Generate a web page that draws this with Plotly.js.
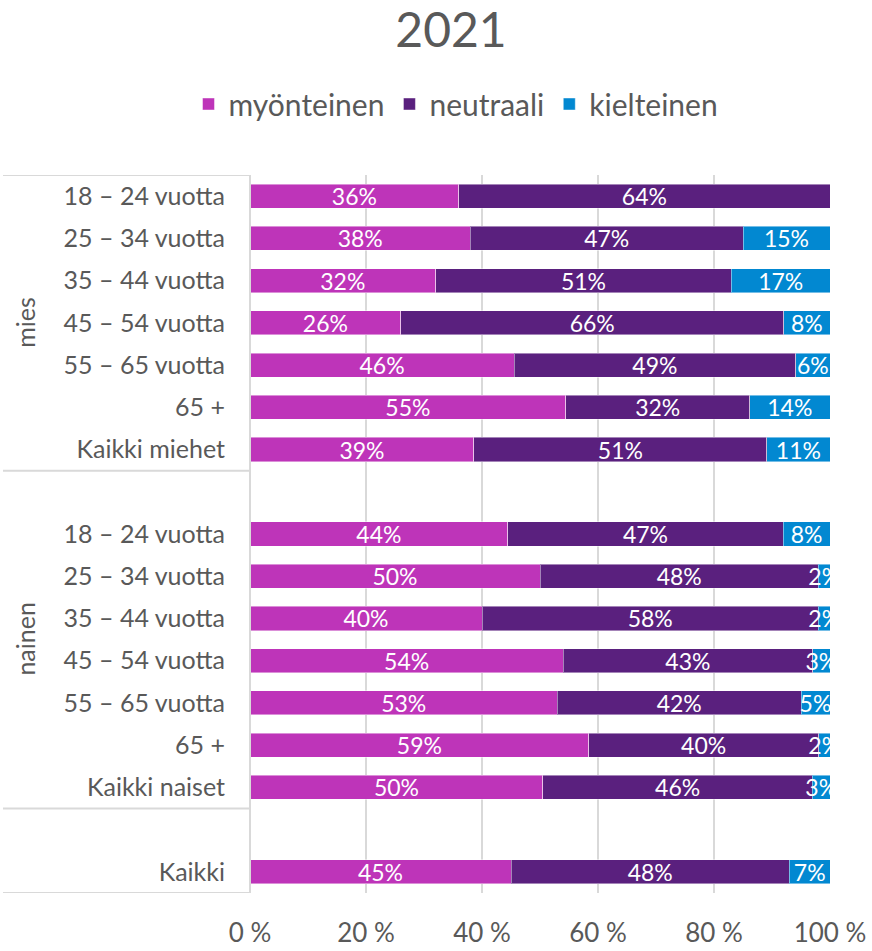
<!DOCTYPE html>
<html>
<head>
<meta charset="utf-8">
<script src="https://cdn.plot.ly/plotly-3.0.1.min.js"></script>
<style>html,body{margin:0;padding:0;background:#fff;}#chart{width:872px;height:951px;}</style>
</head>
<body>
<div id="chart"></div>
<script>
const categories = ['18 – 24 vuotta','25 – 34 vuotta','35 – 44 vuotta','45 – 54 vuotta','55 – 65 vuotta','65 +','Kaikki miehet','',
  '18 – 24 vuotta','25 – 34 vuotta','35 – 44 vuotta','45 – 54 vuotta','55 – 65 vuotta','65 +','Kaikki naiset','',
  'Kaikki'];
const groups = ['mies','nainen'];
const seriesNames = ['myönteinen','neutraali','kielteinen'];
const myonteinen = [36,38,32,26,46,55,39,null,44,50,40,54,53,59,50,null,45];
const neutraali  = [64,47,51,66,49,32,51,null,47,48,58,43,42,40,46,null,48];
const kielteinen = [0,15,17,8,6,14,11,null,8,2,2,3,5,2,3,null,7];
const xTicks = [0,20,40,60,80,100];
const xTickText = ['0 %','20 %','40 %','60 %','80 %','100 %'];
const title = '2021';

const colors = ['#BE34B9','#5A207E','#0288D1'];
const FONT = 'Lato, "Open Sans", sans-serif';
const idx = categories.map((c,i)=>i);

const data = [myonteinen, neutraali, kielteinen].map((vals,k)=>({
  type:'bar', orientation:'h', name: seriesNames[k],
  y: idx, x: vals,
  text: vals.map(v => (v ? v + '%' : '')),
  textposition:'inside', insidetextanchor:'middle', textangle:0, constraintext:'none',
  textfont:{color:'#ffffff', size:23, family:FONT},
  marker:{color:colors[k], line:{color:'rgba(255,255,255,0.45)', width:1}},
  hoverinfo:'skip', cliponaxis:true
}));

const pxX = p => (p-250)/580;
const lineColor = '#D9D9D9';
const shapes = [];
[-0.5, 6.5, 14.5, 16.5].forEach(yv => shapes.push({
  type:'line', xref:'paper', yref:'y', x0:pxX(3), x1:0, y0:yv, y1:yv,
  line:{color:lineColor, width:2}
}));
shapes.push({type:'line', xref:'paper', yref:'y', x0:0, x1:0, y0:-0.5, y1:16.5, line:{color:lineColor, width:2}});

const annotations = [
  {text:groups[0], xref:'paper', yref:'y', x:pxX(25), y:3, xanchor:'center', yanchor:'middle', showarrow:false, textangle:-90,
   font:{size:25, color:'#595959', family:FONT}},
  {text:groups[1], xref:'paper', yref:'y', x:pxX(25), y:10.5, xanchor:'center', yanchor:'middle', showarrow:false, textangle:-90,
   font:{size:25, color:'#595959', family:FONT}}
];

const layout = {
  width:872, height:951,
  margin:{l:250, r:42, t:175, b:58},
  paper_bgcolor:'#fff', plot_bgcolor:'#fff',
  font:{family:FONT, color:'#595959'},
  title:{text:title, x:451/872, xref:'container', xanchor:'center', y:1-30/951, yref:'container', yanchor:'middle',
         font:{size:48, color:'#595959', family:FONT}},
  barmode:'stack', barnorm:'percent', bargap:0.43,
  uniformtext:{mode:'show', minsize:23},
  legend:{orientation:'h', x:456/872, xref:'container', xanchor:'center', y:1-104/951, yref:'container', yanchor:'middle',
          font:{size:30, color:'#595959', family:FONT}, traceorder:'normal', itemwidth:30},
  xaxis:{range:[0,100], tickvals:xTicks, ticktext:xTickText, showgrid:true, gridcolor:lineColor, gridwidth:2,
         zeroline:false, showline:false, ticks:'', ticklabelstandoff:22,
         tickfont:{size:26, color:'#595959', family:FONT}, fixedrange:true},
  yaxis:{range:[16.5,-0.5], tickvals:idx, ticktext:categories, showgrid:false, zeroline:false, showline:false,
         ticks:'', ticklabelstandoff:24, tickfont:{size:25, color:'#595959', family:FONT}, fixedrange:true},
  shapes:shapes, annotations:annotations, showlegend:true
};

Plotly.newPlot('chart', data, layout, {displayModeBar:false, staticPlot:true});
</script>
</body>
</html>
